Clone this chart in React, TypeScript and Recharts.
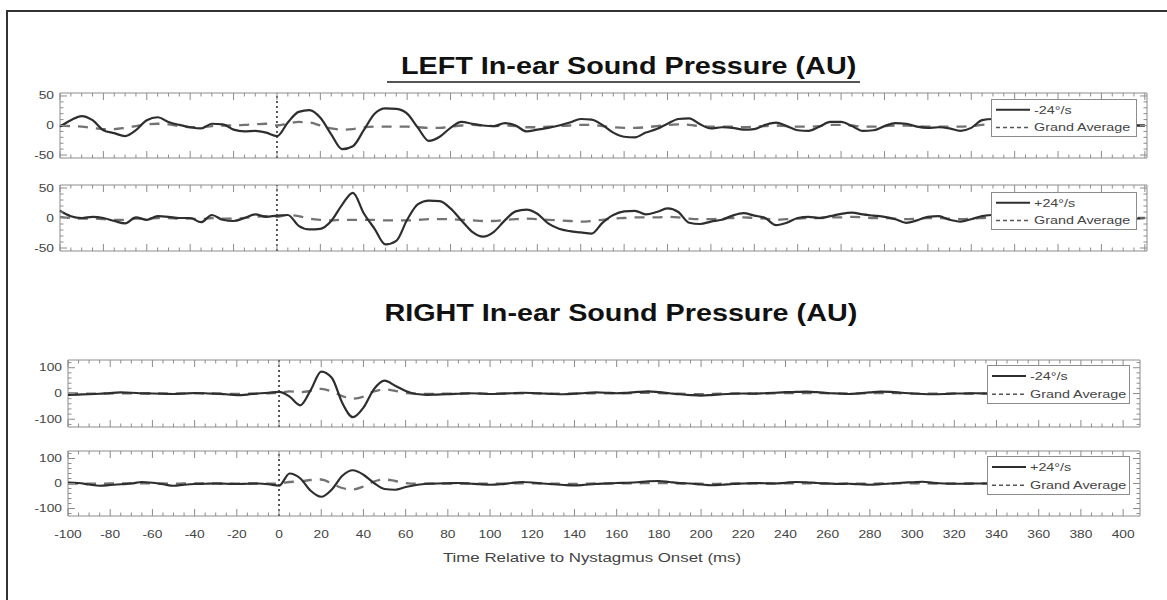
import React from 'react'
import { LineChart, Line, XAxis, YAxis, ReferenceLine, ReferenceArea, Legend, Label } from 'recharts'

// time axis (ms), one sample every 5 ms
const times = [
  -100, -95, -90, -85, -80, -75, -70, -65, -60, -55,
  -50, -45, -40, -35, -30, -25, -20, -15, -10, -5,
  0, 5, 10, 15, 20, 25, 30, 35, 40, 45,
  50, 55, 60, 65, 70, 75, 80, 85, 90, 95,
  100, 105, 110, 115, 120, 125, 130, 135, 140, 145,
  150, 155, 160, 165, 170, 175, 180, 185, 190, 195,
  200, 205, 210, 215, 220, 225, 230, 235, 240, 245,
  250, 255, 260, 265, 270, 275, 280, 285, 290, 295,
  300, 305, 310, 315, 320, 325, 330, 335, 340, 345,
  350, 355, 360, 365, 370, 375, 380, 385, 390, 395,
  400,
]

const xTickLabels = [-100, -80, -60, -40, -20, 0, 20, 40, 60, 80, 100, 120, 140, 160, 180, 200, 220, 240, 260, 280, 300, 320, 340, 360, 380, 400]

const leftYTicks = [-50, -40, -30, -20, -10, 0, 10, 20, 30, 40, 50]
const leftYLabels = [-50, 0, 50]
const rightYTicks = [-120, -100, -80, -60, -40, -20, 0, 20, 40, 60, 80, 100, 120]
const rightYLabels = [-100, 0, 100]

// LEFT ear, -24 deg/s
const leftNeg = [
  -2, 9, 16, 9, -8, -13, -18, -8, 9, 14,
  6, 1, -3, -5, 3, 2, -7, -10, -9, -12,
  -18, 5, 23, 26, 13, -15, -40, -35, -8, 20,
  29, 28, 20, -4, -26, -19, -4, 6, 3, 0,
  -1, 4, 0, -10, -7, -4, 0, 5, 11, 10,
  1, -12, -19, -20, -12, -6, 3, 11, 12, 2,
  -5, -3, -4, -7, -6, 1, 5, -1, -8, -9,
  -2, 6, 6, -1, -9, -8, -1, 4, 3, -2,
  -4, -3, -5, -9, -4, 9, 11, 8, 5, 3,
  0, -2, 0, 2, 1, -1, 0, 2, 1, 0,
  0,
]
const leftNegAvg = [
  0, -1, -2, -4, -6, -6, -4, -1, 2, 3,
  2, -1, -3, -3, -1, 0, 0, 1, 2, 3,
  0, 3, 6, 5, 0, -5, -7, -6, -3, -2,
  -2, -2, -2, -3, -4, -4, -2, 0, 1, 0,
  -1, 0, -1, -3, -3, -2, -1, 0, 1, 1,
  -1, -3, -4, -4, -3, -1, 1, 2, 1, -1,
  -2, -2, -2, -3, -2, -1, 0, -1, -2, -2,
  -1, 1, 1, 0, -2, -2, -1, 0, 0, -1,
  -2, -2, -2, -2, -1, 1, 2, 1, 0, 0,
  -1, -1, 0, 0, 0, -1, -1, 0, 0, 0,
  0,
]

// LEFT ear, +24 deg/s
const leftPos = [
  12, 3, 0, 2, 0, -5, -9, 1, -3, 3,
  2, 0, 0, -7, 5, -3, -5, 0, 6, 2,
  4, 5, -13, -19, -18, -5, 22, 42, 8, -18,
  -44, -38, -3, 23, 29, 28, 16, -4, -23, -31,
  -23, -4, 11, 14, 7, -9, -18, -22, -24, -26,
  -8, 5, 11, 12, 6, 10, 16, 10, -8, -10,
  -6, -3, 4, 8, 4, 0, -12, -8, 0, 2,
  0, 3, 7, 9, 6, 4, 2, -2, -8, -4,
  2, 3, -3, -6, -2, 3, 5, 4, 2, 0,
  -1, 0, 1, 0, -1, 0, 1, 0, 0, -1,
  0,
]
const leftPosAvg = [
  2, 0, -1, -1, -2, -3, -3, -1, -1, 0,
  0, -1, -1, -2, 0, -1, -1, 0, 2, 3,
  2, 5, 3, -1, -3, -4, -3, -3, -3, -3,
  -4, -4, -4, -3, -2, -2, -2, -3, -4, -5,
  -5, -3, -2, -1, -2, -3, -4, -5, -6, -5,
  -3, -1, 0, 1, 1, 1, 2, 1, -1, -2,
  -2, -1, 0, 1, 0, -1, -3, -2, -1, 0,
  0, 1, 1, 2, 1, 0, 0, -1, -2, -1,
  0, 0, -1, -2, -1, 0, 1, 0, 0, 0,
  0, 0, 0, 0, 0, 0, 0, 0, 0, 0,
  0,
]

// RIGHT ear, -24 deg/s
const rightNeg = [
  -5, -4, -3, -1, 2, 4, 3, 1, 0, -1,
  -2, 0, 2, 1, -1, -3, -6, -4, 0, 3,
  6, -12, -46, 13, 85, 61, -37, -92, -55, 17,
  50, 30, 10, -2, -5, -4, -3, -1, 1, 0,
  -2, -1, 1, 3, 2, 0, -2, -3, -1, 2,
  4, 3, 1, 3, 6, 8, 5, 1, -3, -6,
  -8, -6, -3, -1, 0, -1, 1, 3, 5, 6,
  7, 5, 2, 0, -2, 1, 4, 7, 6, 3,
  0, -2, -3, -2, 0, 0, 1, 0, 0, 1,
  0, -1, 0, 1, 0, -1, 0, 0, 1, 0,
  0,
]
const rightNegAvg = [
  0, 0, -1, -1, 0, 1, 1, 0, 0, 0,
  -1, 0, 1, 0, 0, -1, -2, -1, 0, 1,
  2, 8, 5, 10, 18, 8, -10, -20, -12, 8,
  16, 10, 2, -1, -2, -1, -1, 0, 0, 0,
  -1, 0, 0, 1, 1, 0, -1, -1, 0, 1,
  1, 1, 0, 1, 2, 3, 2, 0, -1, -2,
  -3, -2, -1, 0, 0, 0, 0, 1, 2, 2,
  2, 2, 1, 0, -1, 0, 1, 2, 2, 1,
  0, -1, -1, -1, 0, 0, 0, 0, 0, 0,
  0, 0, 0, 0, 0, 0, 0, 0, 0, 0,
  0,
]

// RIGHT ear, +24 deg/s
const rightPos = [
  4, 2, -4, -9, -6, -3, 0, 6, 3, -3,
  -9, -5, -2, -1, 0, -1, -2, -1, 0, -3,
  -9, 40, 21, -29, -53, -24, 31, 53, 35, 2,
  -22, -25, -14, -6, -1, 0, 1, 2, 0, -3,
  -5, -3, 2, 6, 4, 0, -3, -6, -8, -5,
  -2, 0, 2, 3, 5, 9, 10, 6, 2, 0,
  -4, -7, -5, -2, 0, 2, 1, 0, 3, 6,
  5, 2, 0, -2, -1, -3, -5, -3, 0, 3,
  5, 7, 3, 0, -1, -1, 0, 0, 0, 0,
  0, 0, 1, 0, -1, 0, 0, 0, 0, 0,
  0,
]
const rightPosAvg = [
  0, 0, -1, -1, 0, 0, 1, 1, 0, 0,
  -1, 0, 0, 0, 0, 0, -1, 0, 0, -1,
  0, 6, 8, 14, 16, 0, -18, -24, -12, 8,
  16, 10, 2, -1, -1, 0, 0, 0, 0, -1,
  -1, -1, 0, 1, 1, 0, -1, -1, -2, -1,
  0, 0, 1, 1, 1, 2, 2, 1, 0, 0,
  -1, -2, -1, 0, 0, 0, 0, 0, 1, 1,
  1, 0, 0, -1, 0, -1, -1, 0, 0, 1,
  1, 1, 0, 0, 0, 0, 0, 0, 0, 0,
  0, 0, 0, 0, 0, 0, 0, 0, 0, 0,
  0,
]

const FONT = '"Liberation Sans", Arial, Helvetica, sans-serif'
const SX = 1.25 // the figure is stretched sideways
const BOX = '#8c8c8c'
const TEXT = '#444'
const MAIN = '#2e2e2e'
const AVG = '#737373'
const PAGE_W = 1167

function StretchText({ x, y, anchor, size, children }: any) {
  return (
    <text
      transform={`translate(${x} ${y}) scale(${SX} 1)`}
      textAnchor={anchor}
      dominantBaseline="central"
      fontFamily={FONT}
      fontSize={size}
      fill={TEXT}
    >
      {children}
    </text>
  )
}

function Panel(p: any) {
  const mTop = 6
  const mBottom = 4
  const axisH = p.showX ? 56 : 1
  const height = mTop + p.plotHeight + axisH + mBottom
  const plotW = p.plotRight - p.plotLeft
  const chartTop = p.top - mTop
  const data = times.map((t, i) => ({ t, main: p.main[i], avg: p.avg[i] }))

  const xTick = (props: any) => {
    const { x, y, payload } = props
    const v = payload.value
    const major = v % 20 === 0
    const len = major ? 7 : 3.5
    return (
      <g>
        <line x1={x} x2={x} y1={y} y2={y - len} stroke={BOX} />
        <line x1={x} x2={x} y1={y - p.plotHeight} y2={y - p.plotHeight + len} stroke={BOX} />
        {p.showX && xTickLabels.includes(v) && (
          <StretchText x={x} y={y + 18} anchor="middle" size={11}>{v}</StretchText>
        )}
      </g>
    )
  }

  const yTick = (props: any) => {
    const { x, y, payload } = props
    const v = payload.value
    const major = p.yLabels.includes(v)
    const len = major ? 7 : 3.5
    return (
      <g>
        <line x1={x} x2={x + len} y1={y} y2={y} stroke={BOX} />
        <line x1={x + plotW} x2={x + plotW - len} y1={y} y2={y} stroke={BOX} />
        {major && <StretchText x={x - 6} y={y} anchor="end" size={11}>{v}</StretchText>}
      </g>
    )
  }

  const lg = p.legend
  const legendContent = () => (
    <svg width={lg.width} height={lg.height} style={{ display: 'block' }}>
      <rect x={0.5} y={0.5} width={lg.width - 1} height={lg.height - 1} fill="#fff" stroke={BOX} />
      <line x1={5} x2={39} y1={lg.height * 0.28} y2={lg.height * 0.28} stroke={MAIN} strokeWidth={2} />
      <StretchText x={43} y={lg.height * 0.28} anchor="start" size={11.5}>{p.label}</StretchText>
      <line x1={5} x2={40} y1={lg.height * 0.75} y2={lg.height * 0.75} stroke="#555" strokeWidth={1.5} strokeDasharray="4 3" />
      <StretchText x={43} y={lg.height * 0.75} anchor="start" size={11.5}>Grand Average</StretchText>
    </svg>
  )

  return (
    <div style={{ position: 'absolute', left: 0, top: chartTop }}>
      <LineChart
        width={PAGE_W}
        height={height}
        data={data}
        margin={{ top: mTop, right: PAGE_W - p.plotRight, bottom: mBottom, left: 0 }}
      >
        <ReferenceArea x1={-100} x2={p.xMax} y1={p.yDomain[0]} y2={p.yDomain[1]} fill="none" stroke={BOX} />
        <XAxis
          type="number"
          dataKey="t"
          domain={[-100, p.xMax]}
          ticks={times}
          interval={0}
          height={axisH}
          tickSize={0}
          tickMargin={0}
          axisLine={false}
          tickLine={false}
          tick={xTick}
        >
          {p.showX && (
            <Label
              content={(lp: any) => (
                <StretchText x={592} y={lp.viewBox.y + 41} anchor="middle" size={13.5}>
                  Time Relative to Nystagmus Onset (ms)
                </StretchText>
              )}
            />
          )}
        </XAxis>
        <YAxis
          type="number"
          domain={p.yDomain}
          ticks={p.yTicks}
          interval={0}
          width={p.plotLeft}
          tickSize={0}
          tickMargin={0}
          axisLine={false}
          tickLine={false}
          tick={yTick}
        />
        <ReferenceLine x={0} stroke="#222" strokeWidth={1.5} strokeDasharray="2 3" />
        <Line
          dataKey="avg"
          name="Grand Average"
          type="monotone"
          stroke={AVG}
          strokeWidth={2.3}
          strokeDasharray="10 8"
          dot={false}
          isAnimationActive={false}
        />
        <Line
          dataKey="main"
          name={p.label}
          type="monotone"
          stroke={MAIN}
          strokeWidth={2.2}
          dot={false}
          isAnimationActive={false}
        />
        <Legend
          layout="vertical"
          verticalAlign="middle"
          align="center"
          wrapperStyle={{ left: lg.left, top: lg.top - chartTop, width: lg.width, height: lg.height }}
          content={legendContent}
        />
      </LineChart>
    </div>
  )
}

export default function App() {
  return (
    <div style={{ position: 'absolute', left: 0, top: 0, width: PAGE_W, height: 600, background: '#fff', overflow: 'hidden' }}>
      <div
        style={{
          position: 'absolute', left: 6, top: 10, width: 1200, height: 620,
          borderTop: '2px solid #333', borderLeft: '2px solid #333',
        }}
      />
      <div
        style={{
          position: 'absolute', right: PAGE_W - 856, top: 55, fontFamily: FONT, fontSize: 23,
          fontWeight: 'bold', lineHeight: '23px', whiteSpace: 'nowrap', color: '#111',
          transform: `scaleX(${SX})`, transformOrigin: 'right center',
        }}
      >
        LEFT In-ear Sound Pressure (AU)
      </div>
      <div style={{ position: 'absolute', left: 387, top: 81, width: 473, height: 1.5, background: '#555' }} />
      <div
        style={{
          position: 'absolute', right: PAGE_W - 857, top: 302, fontFamily: FONT, fontSize: 23,
          fontWeight: 'bold', lineHeight: '23px', whiteSpace: 'nowrap', color: '#111',
          transform: `scaleX(${SX})`, transformOrigin: 'right center',
        }}
      >
        RIGHT In-ear Sound Pressure (AU)
      </div>

      <Panel
        top={93} plotLeft={60} plotRight={1147} plotHeight={65} xMax={401}
        main={leftNeg} avg={leftNegAvg} label="-24°/s"
        yDomain={[-55, 55]} yTicks={leftYTicks} yLabels={leftYLabels}
        legend={{ left: 991, top: 99, width: 146, height: 38 }}
      />
      <Panel
        top={185} plotLeft={60} plotRight={1147} plotHeight={66} xMax={401}
        main={leftPos} avg={leftPosAvg} label="+24°/s"
        yDomain={[-55, 55]} yTicks={leftYTicks} yLabels={leftYLabels}
        legend={{ left: 991, top: 192, width: 146, height: 38 }}
      />
      <Panel
        top={360} plotLeft={68} plotRight={1140} plotHeight={67} xMax={408}
        main={rightNeg} avg={rightNegAvg} label="-24°/s"
        yDomain={[-130, 130]} yTicks={rightYTicks} yLabels={rightYLabels}
        legend={{ left: 987, top: 365, width: 143, height: 39 }}
      />
      <Panel
        top={451} plotLeft={68} plotRight={1140} plotHeight={65} xMax={408}
        main={rightPos} avg={rightPosAvg} label="+24°/s"
        yDomain={[-130, 130]} yTicks={rightYTicks} yLabels={rightYLabels}
        legend={{ left: 987, top: 456, width: 143, height: 39 }}
        showX
      />
    </div>
  )
}
